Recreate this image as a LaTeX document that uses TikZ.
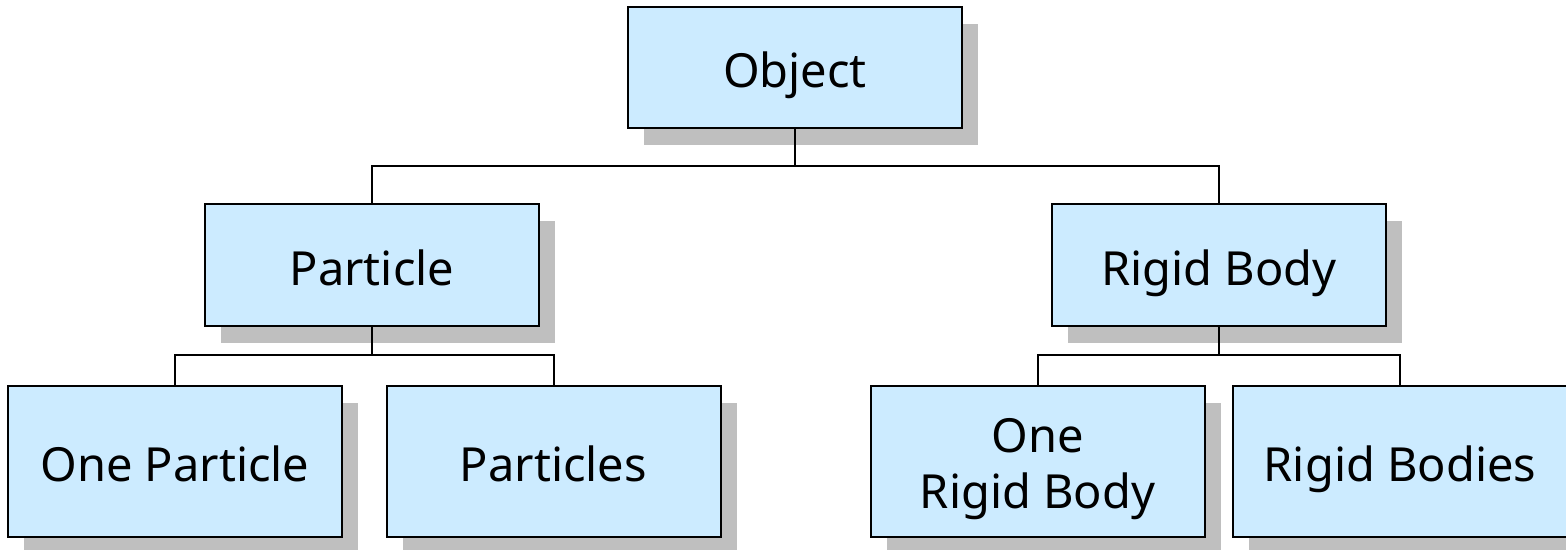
\documentclass[tikz,border=0pt]{standalone}
\usepackage{fontspec}
\setmainfont{Noto Sans}
\usetikzlibrary{shadows}
\definecolor{boxfill}{HTML}{CCEBFF}
\definecolor{shadowgray}{HTML}{BFBFBF}
\tikzset{
  cbox/.style={draw=black, line width=2pt, fill=boxfill, rectangle,
    minimum width=334pt, inner sep=0pt, align=center,
    text height=50pt, text depth=10pt,
    font=\fontsize{47}{56}\selectfont,
    drop shadow={shadow xshift=16pt, shadow yshift=-17pt, fill=shadowgray, opacity=1}},
  toprow/.style={cbox, minimum height=121pt},
  midrow/.style={cbox, minimum height=122pt},
  lowrow/.style={cbox, minimum height=151pt},
  conn/.style={draw=black, line width=2pt}
}
\begin{document}
\begin{tikzpicture}[x=1pt, y=1pt]
\useasboundingbox (0,0) rectangle (1566,-549);
\node[toprow] (obj) at (795,-67.5) {Object};
\node[midrow] (part) at (372,-265) {Particle};
\node[midrow] (rigid) at (1219,-265) {Rigid Body};
\node[lowrow] (onep) at (175,-461.5) {One Particle};
\node[lowrow] (parts) at (553.5,-461.5) {Particles};
\node[lowrow, text height=103pt] (oner) at (1037.5,-461.5) {One\\Rigid Body};
\node[lowrow] (rbs) at (1400,-461.5) {Rigid Bodies};
\coordinate (j1) at (795,-166);
\coordinate (j2) at (372,-355);
\coordinate (j3) at (1219,-355);
\draw[conn] (obj.south) -- (j1);
\draw[conn] (part.north) |- (j1) -| (rigid.north);
\draw[conn] (part.south) -- (j2);
\draw[conn] (onep.north) |- (j2) -| (parts.north);
\draw[conn] (rigid.south) -- (j3);
\draw[conn] (oner.north) |- (j3) -| (rbs.north);
\end{tikzpicture}
\end{document}
